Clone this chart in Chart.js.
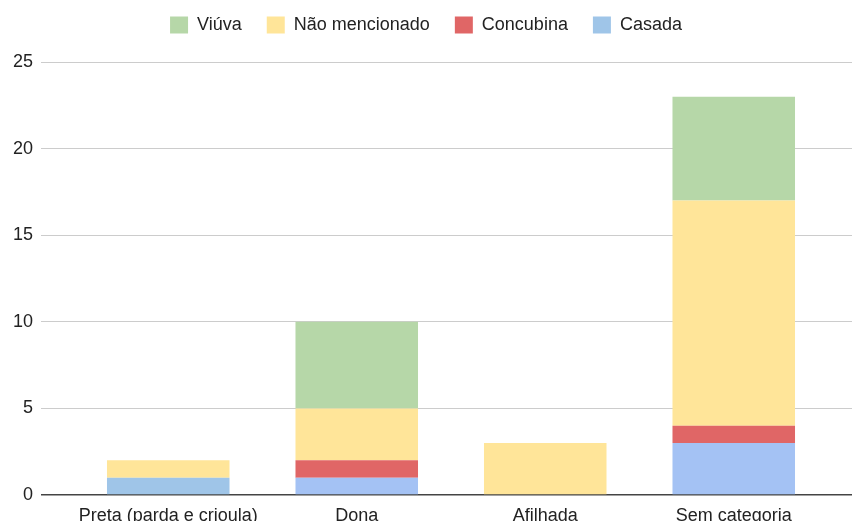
<!DOCTYPE html>
<html>
<head>
<meta charset="utf-8">
<script src="https://cdn.jsdelivr.net/npm/chart.js@4/dist/chart.umd.min.js"></script>
<style>
  html, body { margin: 0; padding: 0; background: #ffffff; }
  #wrap { width: 852px; height: 521px; }
</style>
</head>
<body>
<div id="wrap"><canvas id="c" width="852" height="521"></canvas></div>
<script>
const categories = ["Preta (parda e crioula)", "Dona", "Afilhada", "Sem categoria"];
const casada = [1, 1, 0, 3];
const concubina = [0, 1, 0, 1];
const naoMencionado = [1, 3, 3, 13];
const viuva = [0, 5, 0, 6];
const yTicks = [0, 5, 10, 15, 20, 25];

const FONT = "'Liberation Sans', Arial, sans-serif";
const gridColor = (ctx) => (ctx.tick && ctx.tick.value === 0 ? '#444444' : '#cccccc');
const gridWidth = (ctx) => (ctx.tick && ctx.tick.value === 0 ? 1.5 : 1);

new Chart(document.getElementById('c'), {
  type: 'bar',
  data: {
    labels: categories,
    datasets: [
      { label: 'Casada', data: casada,
        backgroundColor: (ctx) => (ctx.type === 'data' && ctx.dataIndex === 0 ? '#9fc5e8' : '#a4c2f4') },
      { label: 'Concubina', data: concubina, backgroundColor: '#e06666' },
      { label: 'Não mencionado', data: naoMencionado, backgroundColor: '#ffe599' },
      { label: 'Viúva', data: viuva, backgroundColor: '#b6d7a8' }
    ]
  },
  options: {
    responsive: false,
    animation: false,
    layout: { padding: { left: 0, top: -9, right: 0, bottom: 0 } },
    datasets: { bar: { barPercentage: 0.65, categoryPercentage: 1.0, borderWidth: 0 } },
    plugins: {
      tooltip: { enabled: false },
      legend: {
        position: 'top',
        reverse: true,
        labels: {
          font: { family: FONT, size: 18 },
          color: '#222222',
          boxWidth: 18,
          boxHeight: 17,
          padding: 25
        }
      }
    },
    scales: {
      x: {
        stacked: true,
        grid: { display: false },
        border: { display: false },
        ticks: { font: { family: FONT, size: 18 }, color: '#222222', padding: 2, maxRotation: 0, autoSkip: false },
        afterFit: (scale) => { scale.height = 26; }
      },
      xTop: {
        type: 'category',
        position: 'top',
        grid: { display: false },
        border: { display: false },
        ticks: { display: false },
        afterFit: (scale) => { scale.height = 18; }
      },
      y: {
        stacked: true,
        min: 0, max: 25,
        afterBuildTicks: (scale) => { scale.ticks = yTicks.map(v => ({ value: v })); },
        border: { display: false },
        grid: { color: gridColor, lineWidth: gridWidth, tickLength: 33, drawTicks: true },
        ticks: { font: { family: FONT, size: 18 }, color: '#222222', padding: 8 },
        afterFit: (scale) => { scale.width = 74; }
      },
      y2: {
        position: 'right',
        min: 0, max: 25,
        afterBuildTicks: (scale) => { scale.ticks = yTicks.map(v => ({ value: v })); },
        border: { display: false },
        grid: { color: gridColor, lineWidth: gridWidth, tickLength: 24, drawTicks: true, drawOnChartArea: false },
        ticks: { display: false },
        afterFit: (scale) => { scale.width = 24; }
      }
    }
  }
});
</script>
</body>
</html>
